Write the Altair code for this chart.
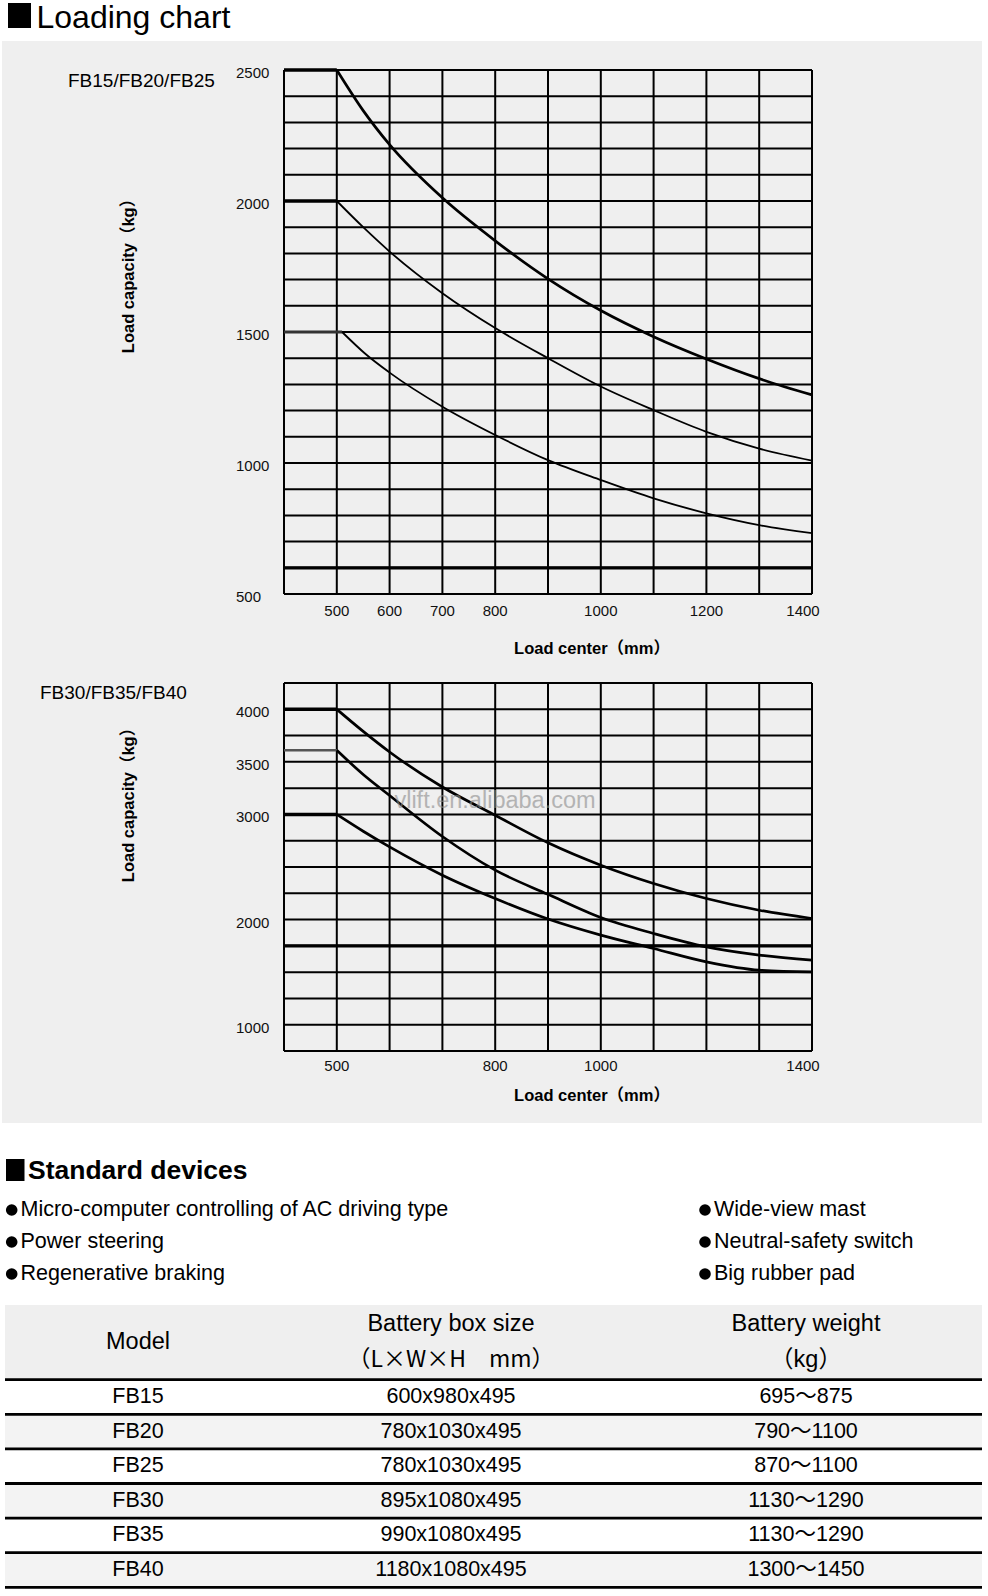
import altair as alt
import pandas as pd

# ---------------- data ----------------
load_centers = [500, 550, 600, 700, 800, 900, 1000, 1100, 1200, 1300, 1400]
fb25_kg = [2500, 2345, 2215, 2012, 1848, 1703, 1582, 1482, 1397, 1322, 1260]
fb20_kg = [2000, 1900, 1807, 1648, 1515, 1400, 1292, 1202, 1119, 1055, 1009]
fb15_centers = [510, 555, 600, 700, 800, 900, 1000, 1100, 1200, 1300, 1400]
fb15_kg = [1500, 1415, 1345, 1215, 1107, 1011, 935, 865, 808, 763, 732]

fb40_kg = [4000, 3790, 3594, 3261, 2992, 2730, 2517, 2343, 2200, 2089, 2010]
fb35_kg = [3610, 3380, 3180, 2790, 2470, 2240, 2020, 1868, 1740, 1662, 1614]
fb30_kg = [3000, 2840, 2691, 2422, 2200, 2005, 1852, 1725, 1598, 1519, 1503]

top_limit_kg = 600
bot_limit_kg = 1750

top_x_ticks = [500, 600, 700, 800, 1000, 1200, 1400]
top_y_ticks = [500, 1000, 1500, 2000, 2500]
bot_x_ticks = [500, 800, 1000, 1400]
bot_y_ticks = [1000, 2000, 3000, 3500, 4000]

devices_left = ["Micro-computer controlling of AC driving type", "Power steering", "Regenerative braking"]
devices_right = ["Wide-view mast", "Neutral-safety switch", "Big rubber pad"]

models = ["FB15", "FB20", "FB25", "FB30", "FB35", "FB40"]
box_sizes = ["600x980x495", "780x1030x495", "780x1030x495", "895x1080x495", "990x1080x495", "1180x1080x495"]
battery_weights = ["695～875", "790～1100", "870～1100", "1130～1290", "1130～1290", "1300～1450"]

# ---------------- styling ----------------
FONT = "Liberation Sans, Noto Sans CJK SC"
PANEL = "#efefef"


def sx():
    return alt.Scale(domain=[400, 1400], range=[284, 812], nice=False, zero=False)


def sy_top():
    return alt.Scale(domain=[500, 2500], range=[594, 70], nice=False, zero=False)


def sy_bot():
    return alt.Scale(domain=[750, 4250], range=[1051, 683], nice=False, zero=False)


def label(text, x, y, size, align="left", baseline="middle", weight="normal",
          angle=0, font=FONT, color="#000", opacity=1.0):
    mk = dict(align=align, baseline=baseline, fontSize=size, fontWeight=weight,
              font=font, color=color, opacity=opacity)
    if angle:
        mk["angle"] = angle
    return alt.Chart(pd.DataFrame({"t": [text]})).mark_text(**mk).encode(
        x=alt.value(x), y=alt.value(y), text="t:N")


def square(x1, x2, y1, y2):
    return alt.Chart(pd.DataFrame({"a": [0]})).mark_rect(color="#000").encode(
        x=alt.value(x1), x2=alt.value(x2), y=alt.value(y1), y2=alt.value(y2))


def panel(ysc, ygrid, series, limit, xticks, yticks, xlab_y, ymin, ymax):
    layers = []
    vg = pd.DataFrame({"x": list(range(400, 1401, 100)), "lo": ymin, "hi": ymax})
    layers.append(alt.Chart(vg).mark_rule(color="#000", strokeWidth=2).encode(
        x=alt.X("x:Q", scale=sx(), axis=None),
        y=alt.Y("lo:Q", scale=ysc(), axis=None), y2="hi:Q"))
    hg = pd.DataFrame({"y": ygrid, "lo": 400, "hi": 1400})
    layers.append(alt.Chart(hg).mark_rule(color="#000", strokeWidth=2).encode(
        y=alt.Y("y:Q", scale=ysc(), axis=None),
        x=alt.X("lo:Q", scale=sx(), axis=None), x2="hi:Q"))
    lim = pd.DataFrame({"y": [limit], "lo": 400, "hi": 1400})
    layers.append(alt.Chart(lim).mark_rule(color="#000", strokeWidth=3.2).encode(
        y=alt.Y("y:Q", scale=ysc(), axis=None),
        x=alt.X("lo:Q", scale=sx(), axis=None), x2="hi:Q"))
    for xs, kg, w, fw, fcol in series:
        flat = pd.DataFrame({"x": [400, xs[0]], "kg": [kg[0], kg[0]]})
        layers.append(alt.Chart(flat).mark_line(color=fcol, strokeWidth=fw).encode(
            x=alt.X("x:Q", scale=sx(), axis=None),
            y=alt.Y("kg:Q", scale=ysc(), axis=None)))
        cur = pd.DataFrame({"x": xs, "kg": kg})
        layers.append(alt.Chart(cur).mark_line(color="#000", strokeWidth=w,
                                               interpolate="monotone").encode(
            x=alt.X("x:Q", scale=sx(), axis=None),
            y=alt.Y("kg:Q", scale=ysc(), axis=None)))
    # x tick labels (the last one sits a little inside the right edge)
    xt = pd.DataFrame({"v": xticks[:-1], "t": [str(v) for v in xticks[:-1]]})
    layers.append(alt.Chart(xt).mark_text(fontSize=15, font=FONT, color="#111",
                                          align="center", baseline="middle").encode(
        x=alt.X("v:Q", scale=sx(), axis=None), y=alt.value(xlab_y), text="t:N"))
    xl = pd.DataFrame({"v": xticks[-1:], "t": [str(v) for v in xticks[-1:]]})
    layers.append(alt.Chart(xl).mark_text(fontSize=15, font=FONT, color="#111",
                                          align="center", baseline="middle", dx=-9).encode(
        x=alt.X("v:Q", scale=sx(), axis=None), y=alt.value(xlab_y), text="t:N"))
    yt = pd.DataFrame({"v": yticks, "t": [str(v) for v in yticks]})
    layers.append(alt.Chart(yt).mark_text(fontSize=15, font=FONT, color="#111",
                                          align="left", baseline="middle", dy=3).encode(
        y=alt.Y("v:Q", scale=ysc(), axis=None), x=alt.value(236), text="t:N"))
    return layers


layers = []
# gray panel behind the two load charts
layers.append(alt.Chart(pd.DataFrame({"a": [0]})).mark_rect(color=PANEL).encode(
    x=alt.value(2), x2=alt.value(982), y=alt.value(41), y2=alt.value(1123)))

layers.append(square(8, 31, 3, 28))
layers.append(label("Loading chart", 36.5, 28, 32, baseline="alphabetic"))

# top chart
layers += panel(
    sy_top, list(range(500, 2501, 100)),
    [(load_centers, fb25_kg, 2.7, 3.6, "#000"),
     (load_centers, fb20_kg, 1.8, 3.4, "#000"),
     (fb15_centers, fb15_kg, 1.8, 3.0, "#333")],
    top_limit_kg, top_x_ticks, top_y_ticks, 611, 500, 2500)
layers.append(label("FB15/FB20/FB25", 68, 81, 19))
layers.append(label("Load capacity（kg）", 129, 272, 16.5, align="center",
                    weight="bold", angle=270))
layers.append(label("Load center（mm）", 592, 649, 16.5, align="center",
                    weight="bold"))

# bottom chart
layers += panel(
    sy_bot, list(range(750, 4251, 250)),
    [(load_centers, fb40_kg, 2.7, 3.6, "#000"),
     (load_centers, fb35_kg, 2.7, 2.6, "#555"),
     (load_centers, fb30_kg, 2.7, 3.6, "#000")],
    bot_limit_kg, bot_x_ticks, bot_y_ticks, 1066, 750, 4250)
layers.append(label("FB30/FB35/FB40", 40, 693, 19))
layers.append(label("Load capacity（kg）", 129, 801, 16.5, align="center",
                    weight="bold", angle=270))
layers.append(label("Load center（mm）", 592, 1096, 16.5, align="center",
                    weight="bold"))
layers.append(label("vlift.en.alibaba.com", 495, 801, 23.5, align="center",
                    color="#8c8c8c", opacity=0.6))

# standard devices
layers.append(square(6, 24.5, 1159, 1181))
layers.append(label("Standard devices", 28, 1171, 26.5, weight="bold"))


def dev_scale():
    return alt.Scale(domain=[0, 2], range=[1210, 1274], nice=False, zero=False)


for items, bx, tx in [(devices_left, 11.7, 20.5), (devices_right, 705, 714)]:
    d = pd.DataFrame({"i": [0, 1, 2], "t": items})
    layers.append(alt.Chart(d).mark_circle(color="#000", opacity=1, size=135).encode(
        x=alt.value(bx), y=alt.Y("i:Q", scale=dev_scale(), axis=None)))
    layers.append(alt.Chart(d).mark_text(fontSize=21.5, font=FONT, align="left",
                                         baseline="middle", color="#000").encode(
        x=alt.value(tx), y=alt.Y("i:Q", scale=dev_scale(), axis=None), text="t:N"))


# table
def trow():
    return alt.Scale(domain=[0, 5], range=[1397, 1570], nice=False, zero=False)


bands = pd.DataFrame({"lo": [-2.66, 0.5, 2.5, 4.5], "hi": [-0.5, 1.5, 3.5, 5.5],
                      "c": ["h", "r", "r", "r"]})
layers.append(alt.Chart(bands).mark_rect().encode(
    x=alt.value(5), x2=alt.value(982),
    y=alt.Y("lo:Q", scale=trow(), axis=None), y2="hi:Q",
    color=alt.Color("c:N", scale=alt.Scale(domain=["h", "r"], range=["#efefef", "#f3f3f3"]),
                    legend=None)))
seps = pd.DataFrame({"p": [-0.5, 0.5, 1.5, 2.5, 3.5, 4.5, 5.5]})
layers.append(alt.Chart(seps).mark_rule(color="#000", strokeWidth=2.8).encode(
    x=alt.value(5), x2=alt.value(982),
    y=alt.Y("p:Q", scale=trow(), axis=None)))

layers.append(label("Model", 138, 1342, 23.5, align="center"))
layers.append(label("Battery box size", 451, 1324, 23.5, align="center"))
layers.append(label("（L×W×H　mm）", 451, 1360, 23, align="center",
                    font="Noto Sans CJK SC, Liberation Sans"))
layers.append(label("Battery weight", 806, 1324, 23.5, align="center"))
layers.append(label("（kg）", 806, 1360, 23.5, align="center"))

tdf = pd.DataFrame({"row": list(range(6)), "model": models, "box": box_sizes,
                    "weight": battery_weights})
for col, xpos in [("model", 138), ("box", 451), ("weight", 806)]:
    layers.append(alt.Chart(tdf).mark_text(fontSize=21.5, font=FONT, align="center",
                                           baseline="middle", color="#000").encode(
        x=alt.value(xpos), y=alt.Y("row:Q", scale=trow(), axis=None),
        text=f"{col}:N"))

chart = alt.layer(*layers).resolve_scale(
    x="independent", y="independent", color="independent"
).properties(
    width=988, height=1596, padding=0,
    autosize=alt.AutoSizeParams(type="none"), background="white"
).configure_view(strokeWidth=0)

chart.save("out.html", embed_options={"renderer": "svg", "actions": False})
